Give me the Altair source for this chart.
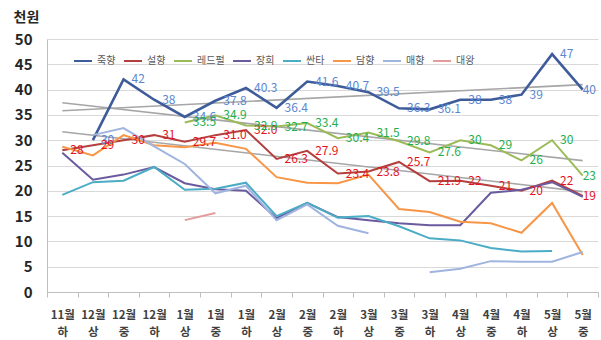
import altair as alt
import pandas as pd

# ten-day periods (month + 상/중/하)
months = ["11월", "12월", "12월", "12월", "1월", "1월", "1월", "2월", "2월",
          "2월", "3월", "3월", "3월", "4월", "4월", "4월", "5월", "5월"]
parts = ["하", "상", "중", "하", "상", "중", "하", "상", "중",
         "하", "상", "중", "하", "상", "중", "하", "상", "중"]

series_names = ["죽향", "설향", "레드펄", "장희", "싼타", "담향", "매향", "대왕"]
series_colors = ["#3E5C9A", "#B3403F", "#9BBB59", "#6A5A9E",
                 "#4BACC6", "#F79646", "#9FB4DE", "#E39C9A"]

# labelled series, values as printed (천원)
jukhyang = [None, "30", "42", "38", "34.6", "37.8", "40.3", "36.4", "41.6",
            "40.7", "39.5", "36.3", "36.1", "38", "38", "39", "47", "40"]
seolhyang = ["28", "29", "30", "31", "29.7", "31.0", "32.0", "26.3", "27.9",
             "23.4", "23.8", "25.7", "21.9", "22", "21", "20", "22", "19"]
redpearl = [None, None, None, None, "33.5", "34.9", "32.9", "32.7", "33.4",
            "30.4", "31.5", "29.8", "27.6", "30", "29", "26", "30", "23"]

# unlabelled series
janghee = [27.5, 22.2, 23.2, 24.7, 21.5, 20.3, 20.0, 14.6, 17.6,
           14.8, 14.2, 13.6, 13.2, 13.2, 19.6, 20.2, 21.7, 18.8]
santa = [19.2, 21.7, 22.0, 24.7, 20.2, 20.4, 21.6, 15.0, 17.6,
         14.7, 15.0, 13.0, 10.6, 10.2, 8.7, 8.0, 8.1, None]
damhyang = [28.7, 27.0, 31.0, 29.0, 28.6, 29.5, 28.3, 22.7, 21.6,
            21.5, 23.2, 16.4, 15.8, 13.9, 13.6, 11.7, 17.6, 7.3]
maehyang = [None, 31.0, 32.4, 28.8, 25.3, 19.5, 21.0, 14.2, 17.3,
            13.1, 11.6, None, 3.9, 4.6, 6.1, 6.0, 6.0, 7.9]
daewang = [None, None, None, None, 14.2, 15.6, None, None, None,
           None, None, None, None, None, None, None, None, None]

labelled = {"죽향": jukhyang, "설향": seolhyang, "레드펄": redpearl}
plain = {"장희": janghee, "싼타": santa, "담향": damhyang,
         "매향": maehyang, "대왕": daewang}
label_colors = ["#5B87D3", "#E3141E", "#1DAF4E"]

rows = []
for name, vals in labelled.items():
    for i, s in enumerate(vals):
        rows.append({"idx": i, "series": name,
                     "v": None if s is None else float(s), "lab": s})
for name, vals in plain.items():
    for i, v in enumerate(vals):
        rows.append({"idx": i, "series": name, "v": v, "lab": None})
df = pd.DataFrame(rows)

n = len(months)
label_js = "[" + ",".join(f"['{m}','{p}']" for m, p in zip(months, parts)) + "]"

FONT = "Noto Sans CJK KR"

x_enc = alt.X(
    "idx:O",
    bandPosition=0.5,
    scale=alt.Scale(type="band", domain=list(range(n)), paddingInner=0, paddingOuter=0),
    axis=alt.Axis(
        title=None, tickBand="extent", labelExpr=label_js + "[datum.value]",
        labelAngle=0, labelBaseline="top", labelLineHeight=17,
        labelFont=FONT, labelFontSize=11.5, labelFontWeight="bold", labelColor="#404040",
        labelPadding=12, tickSize=5, tickColor="#BFBFBF", domainColor="#BFBFBF",
        grid=False,
    ),
)
y_enc = alt.Y(
    "v:Q",
    scale=alt.Scale(domain=[0, 50], nice=False, zero=True),
    axis=alt.Axis(
        values=list(range(0, 51, 5)), title="천원", titleAngle=0,
        titleX=-34, titleY=-22, titleAlign="left", titleBaseline="middle",
        titleFont=FONT, titleFontSize=14, titleFontWeight="bold", titleColor="#262626",
        labelFont=FONT, labelFontSize=15, labelFontWeight="bold", labelColor="#262626",
        ticks=False, labelPadding=15, gridColor="#D9D9D9", domainColor="#BFBFBF",
    ),
)

base = alt.Chart(df)

trend = (
    base.transform_filter(alt.FieldOneOfPredicate(field="series", oneOf=list(labelled)))
    .transform_filter("isValid(datum.v)")
    .transform_regression("idx", "v", groupby=["series"], extent=[0, n - 1])
    .mark_line(color="#A6A6A6", strokeWidth=1.6)
    .encode(x=x_enc, y=y_enc, detail="series:N")
)

lines = base.mark_line(invalid="break-paths-show-domains").encode(
    x=x_enc,
    y=y_enc,
    color=alt.Color(
        "series:N",
        scale=alt.Scale(domain=series_names, range=series_colors),
        legend=alt.Legend(
            title=None, orient="none", legendX=26, legendY=12, direction="horizontal",
            columns=8, symbolType="stroke", symbolSize=324, symbolStrokeWidth=2,
            labelFont=FONT, labelFontSize=10, labelColor="#595959",
            labelOffset=4, columnPadding=4,
        ),
    ),
    strokeWidth=alt.condition(alt.datum.series == "죽향", alt.value(2.6), alt.value(2)),
    order=alt.Order("idx:Q"),
)

text_color = alt.Color(
    "series:N",
    scale=alt.Scale(domain=list(labelled), range=label_colors),
    legend=None,
)
labels_main = (
    base.transform_filter("datum.lab != null && datum.idx < %d" % (n - 1))
    .mark_text(align="left", baseline="middle", dx=8, font=FONT, fontSize=12)
    .encode(x=x_enc, y=y_enc, text="lab:N", color=text_color)
)
labels_last = (
    base.transform_filter("datum.lab != null && datum.idx == %d" % (n - 1))
    .mark_text(align="left", baseline="middle", dx=0, font=FONT, fontSize=12)
    .encode(x=x_enc, y=y_enc, text="lab:N", color=text_color)
)

chart = (
    alt.layer(trend, lines, labels_main, labels_last)
    .resolve_scale(color="independent")
    .properties(
        width=551, height=253,
        autosize=alt.AutoSizeParams(type="none"),
        padding={"left": 47, "top": 39, "right": 3, "bottom": 48},
        background="white",
    )
    .configure_view(stroke=None)
)

chart.save("out.html", embed_options={"renderer": "svg", "actions": False})
